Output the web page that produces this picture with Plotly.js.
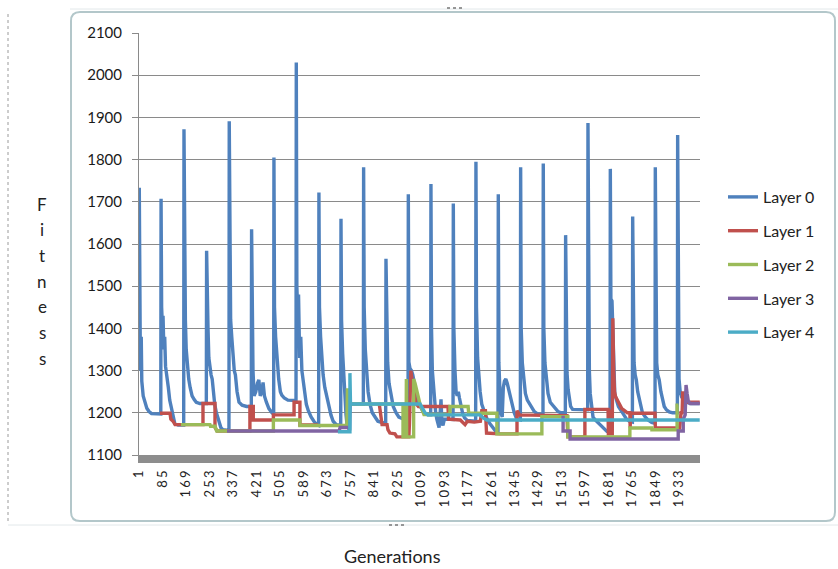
<!DOCTYPE html>
<html>
<head>
<meta charset="utf-8">
<script src="https://cdn.plot.ly/plotly-3.0.1.min.js"></script>
<style>
  html, body { margin: 0; padding: 0; background: #ffffff; }
  #chart { width: 838px; height: 569px; }
  .xtick text { letter-spacing: 2.2px; }
</style>
</head>
<body>
<div id="chart"></div>
<script>
// Best fitness per generation for each layer: [generation, fitness] vertices.
const layer0 = [
  [1,1733],[3,1470],[5,1300],[8,1380],[10,1275],[15,1240],[22,1222],[28,1211],[36,1203],[45,1198],[78,1197],
  [79,1707],[81,1450],[84,1400],[86,1430],[89,1350],[92,1380],[95,1310],[100,1290],[105,1260],[110,1230],[116,1210],[122,1190],[128,1175],[140,1171],[160,1171],
  [161,1872],[163,1460],[166,1420],[169,1350],[173,1310],[178,1280],[183,1260],[190,1240],[197,1232],[205,1225],[218,1222],[241,1222],
  [242,1584],[244,1430],[247,1400],[250,1330],[254,1300],[258,1290],[262,1280],[266,1250],[271,1220],[277,1200],[285,1180],[293,1165],[300,1160],[322,1158],
  [323,1891],[325,1480],[328,1420],[332,1380],[336,1330],[341,1300],[345,1290],[351,1250],[358,1225],[369,1218],[385,1215],[402,1215],
  [403,1635],[405,1400],[408,1300],[412,1240],[418,1250],[424,1270],[429,1278],[434,1240],[440,1250],[444,1272],[449,1240],[456,1225],[465,1210],[476,1200],[482,1197],
  [483,1805],[485,1450],[489,1380],[494,1320],[500,1280],[506,1250],[511,1242],[520,1235],[533,1230],[562,1229],
  [563,2030],[565,1500],[568,1440],[571,1480],[575,1330],[579,1380],[583,1300],[588,1270],[593,1240],[599,1220],[606,1205],[616,1190],[626,1180],[636,1172],[643,1170],
  [644,1722],[646,1450],[650,1380],[654,1330],[659,1290],[665,1260],[671,1240],[679,1215],[687,1195],[695,1180],[706,1172],[722,1170],
  [723,1660],[725,1420],[729,1340],[733,1280],[737,1230],[741,1195],[745,1170],[754,1158],[756,1221],[803,1221],
  [804,1782],[806,1450],[810,1350],[815,1290],[820,1250],[827,1220],[835,1200],[845,1190],[855,1180],[870,1177],[883,1175],
  [884,1565],[886,1400],[890,1320],[895,1270],[902,1240],[910,1215],[920,1200],[930,1190],[945,1186],[963,1185],
  [964,1718],[966,1320],[970,1305],[975,1300],[980,1290],[985,1270],[990,1250],[995,1235],[1000,1225],[1006,1215],[1015,1205],[1024,1198],[1034,1195],[1044,1195],
  [1045,1742],[1047,1400],[1050,1300],[1054,1260],[1058,1230],[1062,1200],[1066,1185],[1070,1170],[1074,1165],[1078,1200],[1081,1232],[1084,1180],[1088,1170],[1093,1185],[1124,1184],
  [1125,1696],[1127,1400],[1131,1300],[1135,1250],[1139,1240],[1143,1250],[1147,1235],[1152,1215],[1158,1200],[1165,1188],[1175,1182],[1205,1180],
  [1206,1795],[1208,1450],[1212,1330],[1216,1286],[1221,1250],[1227,1220],[1234,1205],[1244,1188],[1255,1175],[1265,1165],[1275,1158],[1285,1155],
  [1286,1718],[1288,1320],[1292,1250],[1296,1200],[1300,1190],[1304,1260],[1308,1275],[1313,1280],[1318,1270],[1323,1255],[1328,1240],[1335,1220],[1343,1200],[1352,1185],[1365,1183],
  [1366,1782],[1368,1400],[1372,1318],[1377,1280],[1383,1246],[1390,1230],[1397,1222],[1405,1212],[1415,1203],[1425,1198],[1446,1195],
  [1447,1791],[1449,1400],[1453,1318],[1458,1280],[1464,1246],[1472,1225],[1480,1218],[1490,1210],[1500,1203],[1510,1200],[1526,1200],
  [1527,1621],[1529,1400],[1532,1295],[1536,1255],[1540,1238],[1545,1215],[1552,1208],[1606,1207],
  [1607,1887],[1609,1400],[1612,1300],[1615,1246],[1619,1222],[1625,1190],[1633,1183],[1645,1175],[1655,1167],[1665,1160],[1675,1156],[1686,1155],
  [1687,1778],[1689,1470],[1693,1465],[1696,1380],[1699,1300],[1703,1245],[1709,1230],[1716,1215],[1726,1205],[1735,1195],[1745,1185],[1755,1180],[1766,1178],
  [1767,1665],[1769,1400],[1772,1318],[1776,1290],[1780,1278],[1785,1250],[1790,1235],[1796,1210],[1802,1200],[1812,1190],[1822,1183],[1835,1177],[1847,1175],
  [1848,1782],[1850,1400],[1853,1318],[1857,1290],[1862,1278],[1868,1250],[1873,1235],[1880,1215],[1888,1207],[1898,1202],[1910,1200],[1927,1200],
  [1928,1858],[1930,1300],[1931,1507],[1933,1280],[1937,1250],[1942,1238],[1950,1230],[1960,1225],[1975,1222],[2007,1222]
];

const layer1 = [
  [75,1199],[111,1199],[114,1185],[122,1180],[129,1172],[229,1172],[229,1222],[272,1222],[272,1165],[280,1157],
  [397,1157],[397,1215],[409,1215],[409,1183],[481,1183],[481,1195],[555,1195],[555,1225],[576,1225],[576,1171],[641,1171],
  [642,null],
  [860,1221],[866,1195],[870,1172],[888,1172],[891,1160],[898,1152],[916,1150],[923,1143],[966,1143],[968,1175],[970,1300],[973,1300],
  [977,1280],[981,1260],[986,1240],[991,1222],[1000,1215],[1106,1215],[1108,1185],[1150,1183],[1167,1172],[1175,1180],[1200,1178],[1222,1180],
  [1227,1205],[1240,1205],[1244,1152],[1290,1150],[1353,1150],[1353,1205],[1362,1195],[1435,1195],[1460,1193],[1532,1193],[1535,1143],
  [1596,1143],[1596,1208],[1679,1208],[1680,1150],[1686,1150],[1688,1208],[1690,1150],[1694,1150],[1696,1424],[1699,1300],[1702,1250],
  [1706,1238],[1712,1230],[1720,1222],[1728,1210],[1738,1205],[1748,1200],[1757,1200],[1758,1165],[1760,1199],[1847,1199],[1848,1164],
  [1935,1164],[1940,1200],[1944,1200],[1946,1247],[1955,1247],[1960,1225],[2007,1225]
];

const layer2 = [
  [150,1172],[254,1172],[256,1168],[272,1168],[278,1157],[315,1157],[481,1157],[481,1183],[576,1183],[576,1170],[744,1170],
  [746,1254],[748,1254],[750,1221],[945,1221],[945,1143],[956,1143],[957,1280],[958,1143],[983,1143],[983,1280],[988,1270],
  [995,1250],[1000,1235],[1006,1220],[1012,1210],[1020,1196],[1113,1196],[1113,1215],[1178,1215],[1180,1199],[1281,1199],
  [1281,1150],[1442,1150],[1442,1191],[1535,1191],[1535,1143],[1757,1143],[1757,1164],[1836,1164],[1836,1160],[1926,1160],
  [1926,1218],[1931,1218]
];

const layer3 = [
  [315,1157],[716,1157],[720,1165],[748,1165],
  [749,null],
  [1518,1193],[1518,1157],[1543,1157],[1543,1138],[1930,1138],[1930,1157],[1948,1157],[1948,1185],[1955,1195],[1958,1266],
  [1962,1245],[1966,1228],[1972,1222],[2007,1222]
];

const layer4 = [
  [712,1155],[755,1155],[755,1294],[757,1221],[1006,1221],[1015,1210],[1024,1200],[1034,1195],[1220,1195],[1232,1188],[1245,1183],[2007,1183]
];

const seriesNames = ['Layer 0', 'Layer 1', 'Layer 2', 'Layer 3', 'Layer 4'];
const seriesColors = ['#4f81bd', '#c0504d', '#9bbb59', '#8064a2', '#4bacc6'];
const tickGens = [1,85,169,253,337,421,505,589,673,757,841,925,1009,1093,1177,1261,1345,1429,1513,1597,1681,1765,1849,1933];
const yTicks = [1100,1200,1300,1400,1500,1600,1700,1800,1900,2000,2100];
const yLabel = 'Fitness';
const xLabel = 'Generations';

const FONT = 'Lato, "Open Sans", sans-serif';
const W = 838, H = 569;
const PL = 139, PR = 700, PT = 33, PB = 455;
const fx = px => (px - PL) / (PR - PL);
const fy = py => (PB - py) / (PB - PT);

const traces = [layer0, layer1, layer2, layer3, layer4].map((pts, i) => ({
  type: 'scatter',
  mode: 'lines',
  name: seriesNames[i],
  legendgroup: 'g' + i,
  x: pts.map(p => p[0]),
  y: pts.map(p => p[1]),
  line: { color: seriesColors[i], width: 3.4 },
  connectgaps: false,
  hoverinfo: 'skip'
}));

// Rounded chart-area frame, built in paper units from pixel geometry.
function roundedRect(x0, y0, x1, y1, r) {
  const X = fx, Y = fy;
  return 'M' + X(x0 + r) + ',' + Y(y0) +
    ' L' + X(x1 - r) + ',' + Y(y0) +
    ' Q' + X(x1) + ',' + Y(y0) + ' ' + X(x1) + ',' + Y(y0 + r) +
    ' L' + X(x1) + ',' + Y(y1 - r) +
    ' Q' + X(x1) + ',' + Y(y1) + ' ' + X(x1 - r) + ',' + Y(y1) +
    ' L' + X(x0 + r) + ',' + Y(y1) +
    ' Q' + X(x0) + ',' + Y(y1) + ' ' + X(x0) + ',' + Y(y1 - r) +
    ' L' + X(x0) + ',' + Y(y0 + r) +
    ' Q' + X(x0) + ',' + Y(y0) + ' ' + X(x0 + r) + ',' + Y(y0) + ' Z';
}

const shapes = [
  { type: 'path', xref: 'paper', yref: 'paper', layer: 'below',
    path: roundedRect(71, 12, 835, 521, 9),
    line: { color: '#b3c7ca', width: 2 } },
  { type: 'line', xref: 'paper', yref: 'paper', layer: 'below',
    x0: fx(8), x1: fx(8), y0: fy(14), y1: fy(522),
    line: { color: '#9a9a9a', width: 1, dash: 'dot' } },
  { type: 'line', xref: 'paper', yref: 'paper', layer: 'below',
    x0: fx(8), x1: fx(838), y0: fy(525), y1: fy(525),
    line: { color: '#e2e8ea', width: 1 } },
  { type: 'line', xref: 'paper', yref: 'paper', layer: 'below',
    x0: fx(70), x1: fx(838), y0: fy(9), y1: fy(9),
    line: { color: '#e2e8ea', width: 1 } },
  { type: 'line', xref: 'paper', yref: 'paper', layer: 'below',
    x0: fx(447), x1: fx(465), y0: fy(8), y1: fy(8),
    line: { color: '#777777', width: 1.5, dash: 'dot' } },
  { type: 'line', xref: 'paper', yref: 'paper', layer: 'below',
    x0: fx(389), x1: fx(407), y0: fy(525), y1: fy(525),
    line: { color: '#777777', width: 1.5, dash: 'dot' } }
];

const annotations = yLabel.split('').map((ch, i) => ({
  xref: 'paper', yref: 'paper',
  x: fx(42), y: fy(204 + i * 25.7),
  xanchor: 'center', yanchor: 'middle',
  text: ch, showarrow: false,
  font: { family: FONT, size: 17, color: '#222222' }
}));
annotations.push({
  xref: 'paper', yref: 'paper',
  x: fx(392), y: fy(556),
  xanchor: 'center', yanchor: 'middle',
  text: xLabel, showarrow: false,
  font: { family: FONT, size: 18, color: '#222222' }
});

const layout = {
  width: W, height: H,
  margin: { l: PL, r: W - PR, t: PT, b: H - PB, pad: 0 },
  paper_bgcolor: '#ffffff',
  plot_bgcolor: '#ffffff',
  showlegend: true,
  legend: {
    x: fx(723), y: fy(180), xanchor: 'left', yanchor: 'top',
    font: { family: FONT, size: 16, color: '#222222' },
    bgcolor: 'rgba(0,0,0,0)', borderwidth: 0,
    tracegroupgap: 10, itemwidth: 30
  },
  xaxis: {
    range: [0, 2008],
    tickmode: 'array', tickvals: tickGens, ticktext: tickGens.map(String),
    tickangle: -90,
    tickfont: { family: FONT, size: 13, color: '#222222' },
    showgrid: false, zeroline: false,
    showline: true, linecolor: '#8d8d8d', linewidth: 8,
    ticks: '', fixedrange: true
  },
  yaxis: {
    range: [1100, 2100],
    tickmode: 'array', tickvals: yTicks, ticktext: yTicks.map(String),
    tickfont: { family: FONT, size: 15, color: '#1a1a1a' },
    ticklabelstandoff: 7,
    showgrid: true, gridcolor: '#8a8a8a', gridwidth: 1,
    zeroline: false,
    showline: true, linecolor: '#8a8a8a', linewidth: 1,
    ticks: 'outside', ticklen: 6, tickcolor: '#8a8a8a', tickwidth: 1,
    fixedrange: true
  },
  shapes: shapes,
  annotations: annotations
};

Plotly.newPlot('chart', traces, layout, { displayModeBar: false, staticPlot: true });
</script>
</body>
</html>
